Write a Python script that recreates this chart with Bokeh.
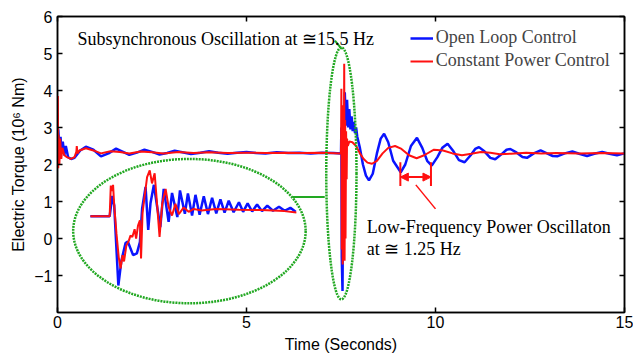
from bokeh.plotting import figure
from bokeh.models import (Range1d, FixedTicker, LinearAxis, Legend, LegendItem,
                          Arrow, NormalHead, Label)
from bokeh.core.properties import value
from bokeh.embed import file_html
from bokeh.resources import INLINE

# ---------------- data ----------------
blue_t = [0.00, 0.02, 0.05, 0.08, 0.11, 0.14, 0.18, 0.22, 0.28, 0.36, 0.45, 0.60, 0.75,
          0.95, 1.15, 1.35, 1.55, 1.72, 1.90, 2.10, 2.30, 2.50, 2.70, 2.90, 3.10, 3.30,
          3.53, 3.78, 4.01, 4.25, 4.50, 4.75, 5.00, 5.25, 5.50, 5.80, 6.10, 6.40, 6.70,
          7.00, 7.30, 7.50, 7.51, 7.52, 7.54, 7.56, 7.57, 7.60, 7.63, 7.66, 7.69, 7.72,
          7.75, 7.78, 7.81, 7.84, 7.87, 7.90, 7.93, 8.00, 8.08, 8.16, 8.24, 8.34, 8.45,
          8.55, 8.64, 8.75, 8.88, 9.08, 9.20, 9.35, 9.51, 9.65, 9.78, 9.90, 10.05, 10.18,
          10.32, 10.48, 10.62, 10.77, 10.93, 11.05, 11.15, 11.30, 11.45, 11.58, 11.75,
          11.88, 11.98, 12.15, 12.30, 12.42, 12.60, 12.78, 12.95, 13.10, 13.22, 13.42,
          13.62, 13.80, 14.01, 14.20, 14.41, 14.60, 14.80, 15.00]
blue_v = [2.30, 2.95, 2.45, 2.75, 2.30, 2.62, 2.25, 2.50, 2.20, 2.15, 2.18, 2.38, 2.48,
          2.40, 2.22, 2.30, 2.43, 2.35, 2.26, 2.32, 2.40, 2.34, 2.27, 2.31, 2.37, 2.33,
          2.28, 2.32, 2.36, 2.32, 2.29, 2.32, 2.34, 2.31, 2.30, 2.33, 2.31, 2.32, 2.30,
          2.32, 2.31, 2.30, 3.00, -0.50, -1.42, 2.00, 0.50, 3.95, 3.05, 3.75, 3.00, 3.50,
          2.95, 3.30, 2.90, 3.15, 2.85, 3.00, 2.75, 2.45, 2.00, 1.70, 1.57, 1.75, 2.30,
          2.70, 2.83, 2.60, 2.10, 1.79, 2.00, 2.50, 2.72, 2.45, 2.10, 1.97, 2.20, 2.45,
          2.56, 2.35, 2.12, 2.06, 2.25, 2.42, 2.47, 2.35, 2.18, 2.14, 2.28,
          2.40, 2.42, 2.32, 2.20, 2.18, 2.30, 2.38, 2.30, 2.23, 2.22, 2.30,
          2.35, 2.29, 2.23, 2.29, 2.34, 2.29, 2.25, 2.30]

red_t = [0.00, 0.01, 0.02, 0.03, 0.05, 0.07, 0.10, 0.13, 0.18, 0.25, 0.35, 0.45, 0.50,
         0.51, 0.53, 0.58, 0.75, 0.95, 1.15, 1.40, 1.65, 1.90, 2.20, 2.50, 2.80, 3.20,
         3.60, 4.00, 4.50, 5.00, 5.50, 6.00, 6.50, 7.00, 7.50, 7.51, 7.52, 7.53, 7.545,
         7.56, 7.57, 7.585, 7.595, 7.61, 7.62, 7.635, 7.65, 7.66, 7.68, 7.72, 7.80, 7.90,
         8.00, 8.10, 8.20, 8.32, 8.45, 8.60, 8.75, 8.93, 9.10, 9.30, 9.50, 9.70, 9.96,
         10.20, 10.45, 10.70, 10.95, 11.20, 11.45, 11.70, 12.00, 12.40, 12.80, 13.20,
         13.80, 14.40, 15.00]
red_v = [2.30, 3.85, 1.90, 2.80, 2.00, 2.70, 2.15, 2.45, 2.25, 2.20, 2.15, 2.20, 2.35,
         2.50, 2.30, 2.38, 2.44, 2.38, 2.30, 2.36, 2.34, 2.30, 2.35, 2.33, 2.30, 2.34,
         2.31, 2.33, 2.31, 2.32, 2.31, 2.32, 2.31, 2.32, 2.30, 4.05, -0.30, 3.60, -0.70,
         3.00, 0.20, 4.72, -0.60, 3.20, 0.00, 2.90, 1.60, 2.70, 2.50, 2.62, 2.60, 2.50,
         2.30, 2.15, 2.05, 2.02, 2.10, 2.30, 2.45, 2.50, 2.42, 2.25, 2.17, 2.25, 2.40,
         2.38, 2.30, 2.25, 2.29, 2.34, 2.32, 2.28, 2.29, 2.32, 2.30, 2.31,
         2.30, 2.31, 2.30]

# inset (magnified fault response), drawn in the main axes' units
inset_blue_t = [0.87, 1.38, 1.45, 1.50, 1.55, 1.61, 1.69, 1.80, 1.86, 2.00, 2.10, 2.18,
                2.24, 2.33, 2.40, 2.46, 2.55, 2.63, 2.72, 2.81, 2.94, 3.03, 3.17, 3.24,
                3.37, 3.45, 3.56, 3.65, 3.76, 3.87, 3.98, 4.09, 4.20, 4.31, 4.42, 4.53,
                4.66, 4.80, 4.91, 5.03, 5.15, 5.28, 5.41, 5.55, 5.70, 5.86, 6.01, 6.16, 6.30]
inset_blue_v = [0.60, 0.60, 1.15, 0.90, -0.10, -1.27, -0.60, -0.12, -0.08, -0.45, -0.40,
                -0.10, 0.82, 1.39, 0.23, 0.95, 1.45, 0.90, 0.31, 1.34, 0.45, 1.23, 0.58, 1.30,
                0.67, 1.22, 0.62, 1.18, 0.64, 1.14, 0.66, 1.10, 0.68, 1.06, 0.70, 1.02,
                0.71, 0.98, 0.72, 0.95, 0.73, 0.92, 0.74, 0.89, 0.75, 0.86, 0.75, 0.83, 0.72]

inset_red_t = [0.87, 1.38, 1.41, 1.44, 1.47, 1.50, 1.56, 1.62, 1.67, 1.72, 1.76, 1.82,
               1.89, 1.93, 1.98, 2.04, 2.08, 2.13, 2.18, 2.21, 2.25, 2.30, 2.37, 2.44,
               2.50, 2.57, 2.64, 2.70, 2.77, 2.86, 2.94, 3.03, 3.12, 3.21, 3.34, 3.47,
               3.60, 3.80, 4.20, 4.80, 5.40, 6.00, 6.32]
inset_red_v = [0.60, 0.60, 1.43, 1.28, 1.45, 0.90, 0.13, -0.51, -0.81, -0.45, -0.62, -0.20,
               -0.05, 0.08, 0.04, 0.25, 0.00, 0.35, 0.49, -0.54, 0.70, 1.10, 1.66, 1.84,
               1.49, 1.76, 0.85, 0.04, 0.94, 1.34, 0.85, 0.62, 0.94, 0.66, 0.84, 0.72,
               0.80, 0.76, 0.80, 0.78, 0.77, 0.74, 0.70]

x_ticks = [0, 5, 10, 15]
y_ticks = [-1, 0, 1, 2, 3, 4, 5, 6]
series_names = ["Open Loop Control", "Constant Power Control"]

BLUE = "#0a14ff"
RED = "#ff1010"
GREEN = "#22a822"
SANS = "Liberation Sans"
SERIF = "Liberation Serif"

# ---------------- figure ----------------
p = figure(width=633, height=357, output_backend="svg", toolbar_location=None,
           x_range=Range1d(0, 15), y_range=Range1d(-2, 6),
           min_border_left=57, min_border_right=9, min_border_top=16,
           min_border_bottom=45)
p.grid.visible = False
p.outline_line_color = "black"
p.outline_line_width = 1.5

for ax in (p.xaxis[0], p.yaxis[0]):
    ax.major_tick_in = 5
    ax.major_tick_out = 0
    ax.minor_tick_in = 0
    ax.minor_tick_out = 0
    ax.axis_line_width = 1.5
    ax.major_tick_line_width = 1.5
    ax.major_label_text_font = SANS
    ax.major_label_text_font_size = "16px"
    ax.major_label_text_color = "black"
    ax.axis_label_text_font = SANS
    ax.axis_label_text_font_size = "16px"
    ax.axis_label_text_font_style = "normal"
    ax.axis_label_text_color = "black"

p.xaxis[0].ticker = FixedTicker(ticks=x_ticks)
p.yaxis[0].ticker = FixedTicker(ticks=y_ticks)
p.xaxis[0].axis_label = "Time (Seconds)"
p.yaxis[0].axis_label = "Electric Torque (10\u2076 Nm)"
p.xaxis[0].major_label_standoff = 3
p.xaxis[0].axis_label_standoff = 5
p.yaxis[0].major_label_standoff = 5
p.yaxis[0].axis_label_standoff = 4

for side, ticks in (("right", y_ticks), ("above", x_ticks)):
    ax = LinearAxis(ticker=FixedTicker(ticks=ticks), major_tick_in=5, major_tick_out=0,
                    minor_tick_in=0, minor_tick_out=0, axis_line_width=1.5,
                    major_tick_line_width=1.5, major_label_text_font_size="0px",
                    major_label_text_color=None, major_label_standoff=0)
    p.add_layout(ax, side)

# main curves
rb = p.line(blue_t, blue_v, line_color=BLUE, line_width=2.5)
rr = p.line(red_t, red_v, line_color=RED, line_width=2)

# inset curves
p.line(inset_blue_t, inset_blue_v, line_color=BLUE, line_width=2.5)
p.line(inset_red_t, inset_red_v, line_color=RED, line_width=2)

# green dotted ellipses and connectors
p.ellipse(x=[3.49], y=[0.20], width=[6.15], height=[3.90], fill_color=None,
          line_color=GREEN, line_width=2.5, line_dash="2 1")
p.ellipse(x=[7.51], y=[1.76], width=[0.80], height=[6.81], fill_color=None,
          line_color=GREEN, line_width=2.5, line_dash="2 1")
p.segment(x0=[6.22, 7.34], y0=[1.12, 5.35], x1=[7.07, 7.52], y1=[1.12, 5.12],
          line_color=GREEN, line_width=2)

# red period marker
p.segment(x0=[9.07, 9.88], y0=[1.42, 1.42], x1=[9.07, 9.88], y1=[2.06, 2.06],
          line_color=RED, line_width=2)
p.add_layout(Arrow(start=NormalHead(size=8, fill_color=RED, line_color=RED),
                   end=NormalHead(size=8, fill_color=RED, line_color=RED),
                   x_start=9.07, x_end=9.88, y_start=1.66, y_end=1.66,
                   line_color=RED, line_width=2))
p.segment(x0=[9.48], y0=[1.45], x1=[10.0], y1=[0.80], line_color=RED, line_width=1.5)

# annotations
for txt, x, y in (("Subsynchronous Oscillation at \u224515.5 Hz", 0.53, 5.40),
                  ("Low-Frequency Power Oscillaton", 8.18, 0.30),
                  ("at \u2245 1.25 Hz", 8.18, -0.29)):
    p.add_layout(Label(x=x, y=y, text=txt, text_font=SERIF, text_font_size="18px",
                       text_color="black", text_baseline="alphabetic", text_align="left"))

legend = Legend(items=[LegendItem(label=series_names[0], renderers=[rb]),
                       LegendItem(label=series_names[1], renderers=[rr])],
                location=(352.7, 241), padding=0, margin=0, spacing=2,
                glyph_width=23, glyph_height=20, label_height=20, label_standoff=3,
                label_text_font=SERIF, label_text_font_size="18px",
                border_line_alpha=0, background_fill_alpha=0)
p.add_layout(legend)

open("out.html", "w").write(file_html(p, INLINE))
